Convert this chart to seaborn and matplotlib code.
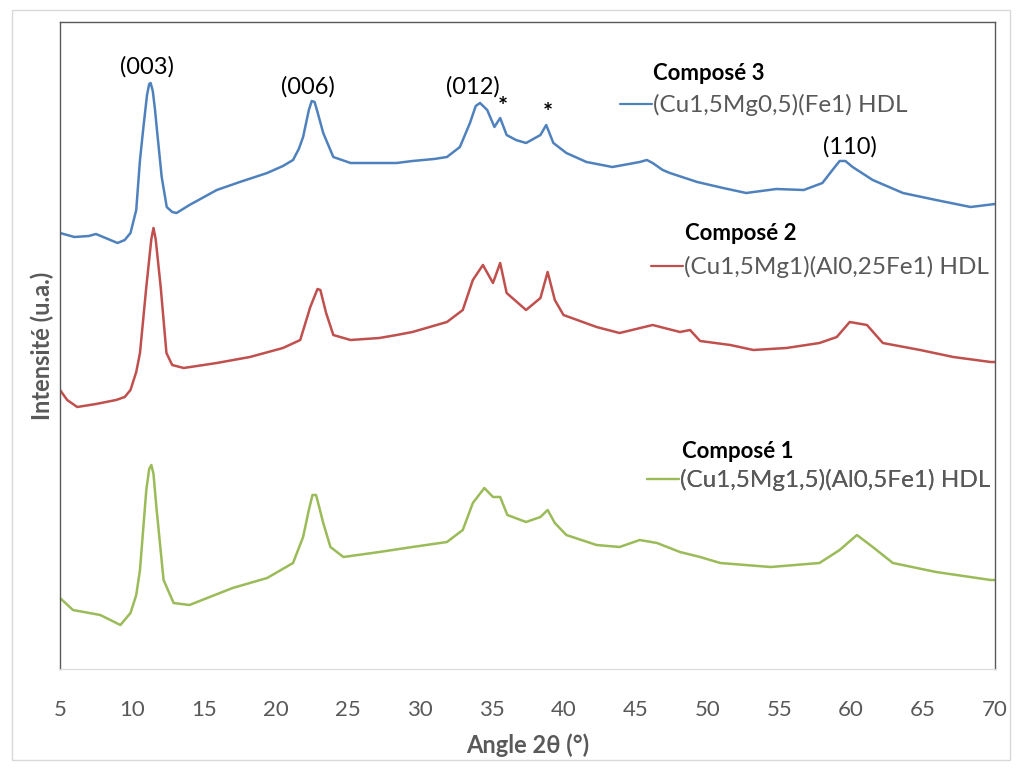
import numpy as np
import pandas as pd
import matplotlib.pyplot as plt
import seaborn as sns
from matplotlib.patches import Rectangle
from matplotlib.lines import Line2D

# values (intensity in arbitrary units)
angle_3 = [5.0, 6.0, 7.0, 7.5, 8.5, 9.0, 9.5, 9.9, 10.3, 10.56, 10.8, 11.05, 11.2, 11.3, 11.45,
           11.6, 11.72, 12.07, 12.42, 12.8, 13.1, 14.0, 15.9, 17.5, 19.4, 20.5, 21.2, 21.6,
           21.9, 22.3, 22.5, 22.7, 22.9, 23.3, 24.0, 25.2, 27.0, 28.4, 29.5, 31.0, 31.9,
           32.8, 33.5, 33.9, 34.2, 34.7, 35.2, 35.6, 36.05, 36.7, 37.4, 38.4, 38.8, 39.3,
           40.2, 41.6, 43.4, 45.3, 45.8, 46.2, 46.9, 47.4, 49.3, 51.1, 52.7, 54.8, 56.7,
           58.0, 58.7, 59.2, 59.6, 60.1, 61.5, 63.6, 65.9, 68.3, 70.0]
int_3 = [436, 432, 433, 435, 429, 426, 429, 436, 459, 509, 542, 574, 585, 586, 578,
         560, 542, 492, 462, 457, 456, 464, 479, 487, 496, 503, 509, 520,
         532, 559, 568, 567, 557, 536, 512, 506, 506, 506, 508, 510, 512,
         522, 546, 563, 566, 559, 542, 551, 534, 529, 526, 534, 544, 526,
         516, 507, 502, 507, 509, 506, 499, 496, 487, 481, 476, 480, 479,
         486, 499, 508, 508, 502, 489, 476, 469, 462, 465]

angle_2 = [5.0, 5.5, 6.2, 7.5, 8.9, 9.5, 9.9, 10.3, 10.56, 11.0, 11.35, 11.5, 11.65, 12.0,
           12.4, 12.8, 13.6, 15.9, 18.2, 20.5, 21.7, 22.4, 22.9, 23.1, 23.5, 24.0, 25.2,
           27.2, 28.4, 29.5, 31.9, 33.0, 33.7, 34.4, 35.1, 35.6, 36.05, 37.4, 38.4, 38.9,
           39.4, 40.0, 42.3, 43.9, 46.2, 48.1, 48.8, 49.5, 51.6, 53.2, 55.5, 57.8, 59.0,
           59.9, 61.1, 62.2, 64.8, 67.1, 69.7, 70.0]
int_2 = [279, 269, 262, 265, 269, 272, 279, 297, 316, 382, 430, 441, 430, 382,
         316, 304, 301, 306, 312, 321, 329, 362, 380, 379, 356, 334, 329,
         331, 334, 337, 347, 359, 389, 404, 386, 406, 376, 359, 371, 397,
         369, 354, 342, 336, 344, 337, 339, 328, 324, 319, 321, 326, 332,
         347, 344, 326, 319, 312, 307, 307]

angle_1 = [5.0, 5.9, 7.8, 9.2, 9.9, 10.3, 10.56, 11.0, 11.2, 11.35, 11.5, 11.7, 12.2, 12.9,
           14.0, 17.0, 19.4, 21.2, 21.9, 22.3, 22.55, 22.8, 23.0, 23.3, 23.8, 24.7, 27.2,
           29.5, 31.9, 33.0, 33.7, 34.5, 35.1, 35.6, 36.1, 37.4, 38.4, 38.9, 39.4, 40.2,
           42.3, 43.9, 45.3, 46.5, 48.1, 49.5, 50.9, 54.4, 57.8, 59.2, 60.4, 61.5, 62.9,
           65.9, 69.7, 70.0]
int_1 = [71, 59, 54, 44, 56, 74, 99, 179, 200, 204, 195, 162, 89, 66,
         64, 81, 91, 106, 132, 159, 174, 174, 163, 146, 122, 112, 117,
         122, 127, 139, 166, 181, 172, 172, 154, 147, 152, 159, 146, 134,
         124, 122, 129, 126, 117, 112, 106, 102, 106, 119, 134, 122, 106,
         97, 89, 89]

names = ['Composé 3', 'Composé 2', 'Composé 1']
labels = ['(Cu1,5Mg0,5)(Fe1) HDL', '(Cu1,5Mg1)(Al0,25Fe1) HDL', '(Cu1,5Mg1,5)(Al0,5Fe1) HDL']
colors = ['#4F81BD', '#C0504D', '#9BBB59']

peak_labels = ['(003)', '(006)', '(012)', '*', '*', '(110)']
peak_x = [11.05, 22.24, 33.7, 35.8, 38.9, 59.9]
peak_y = [602, 582, 582, 562, 555, 522]

df = pd.concat([
    pd.DataFrame({'angle': angle_3, 'intensite': int_3, 'compose': names[0]}),
    pd.DataFrame({'angle': angle_2, 'intensite': int_2, 'compose': names[1]}),
    pd.DataFrame({'angle': angle_1, 'intensite': int_1, 'compose': names[2]}),
])

sns.set_style('white')
plt.rcParams['font.family'] = ['Lato', 'DejaVu Sans']

W, H = 1022, 769
fig = plt.figure(figsize=(W / 100, H / 100), dpi=100)
ax = fig.add_axes([60 / W, 1 - 669 / H, 935 / W, 647 / H])

sns.lineplot(data=df, x='angle', y='intensite', hue='compose', palette=dict(zip(names, colors)),
             sort=False, estimator=None, linewidth=1.8, legend=False, ax=ax)

ax.set_xlim(5, 70)
ax.set_ylim(0, 647)
ax.set_xticks(range(5, 71, 5))
ax.set_yticks([])
ax.tick_params(axis='x', length=0, pad=22, labelsize=16, labelcolor='#595959')
ax.set_xlabel('Angle 2θ (°)', fontsize=17, fontweight='bold', color='#595959', labelpad=10)
ax.set_ylabel('Intensité (u.a.)', fontsize=17, fontweight='bold', color='#595959', labelpad=4)

for s in ['left', 'top', 'right']:
    ax.spines[s].set_color('#595959')
    ax.spines[s].set_linewidth(1.0)
ax.spines['bottom'].set_color('#D9D9D9')

for t, x, y in zip(peak_labels, peak_x, peak_y):
    ax.text(x, y, t, fontsize=17 if t == '*' else 17, ha='center', va='center',
            fontweight='bold' if t == '*' else 'normal', color='black')

# legend blocks (title + one entry)
title_pos = [(653, 73), (685, 233), (682, 452)]
entry_pos = [(620, 105), (651, 267), (647, 480)]
for name, lab, col, tp, ep in zip(names, labels, colors, title_pos, entry_pos):
    fig.text(tp[0] / W, 1 - tp[1] / H, name, fontsize=16, fontweight='bold',
             ha='left', va='center', color='black')
    h = Line2D([], [], color=col, linewidth=1.6)
    leg = ax.legend([h], [lab], loc='center left', bbox_to_anchor=(ep[0] / W, 1 - ep[1] / H),
                    bbox_transform=fig.transFigure, frameon=False, fontsize=17.5,
                    handlelength=1.3, handletextpad=0.05, borderpad=0, borderaxespad=0,
                    labelcolor='#595959')
    ax.add_artist(leg)

fig.patches.append(Rectangle((12 / W, 1 - 760 / H), 998 / W, 750 / H, transform=fig.transFigure,
                             fill=False, edgecolor='#D9D9D9', linewidth=1.0))

fig.savefig('out.png', dpi=100)
